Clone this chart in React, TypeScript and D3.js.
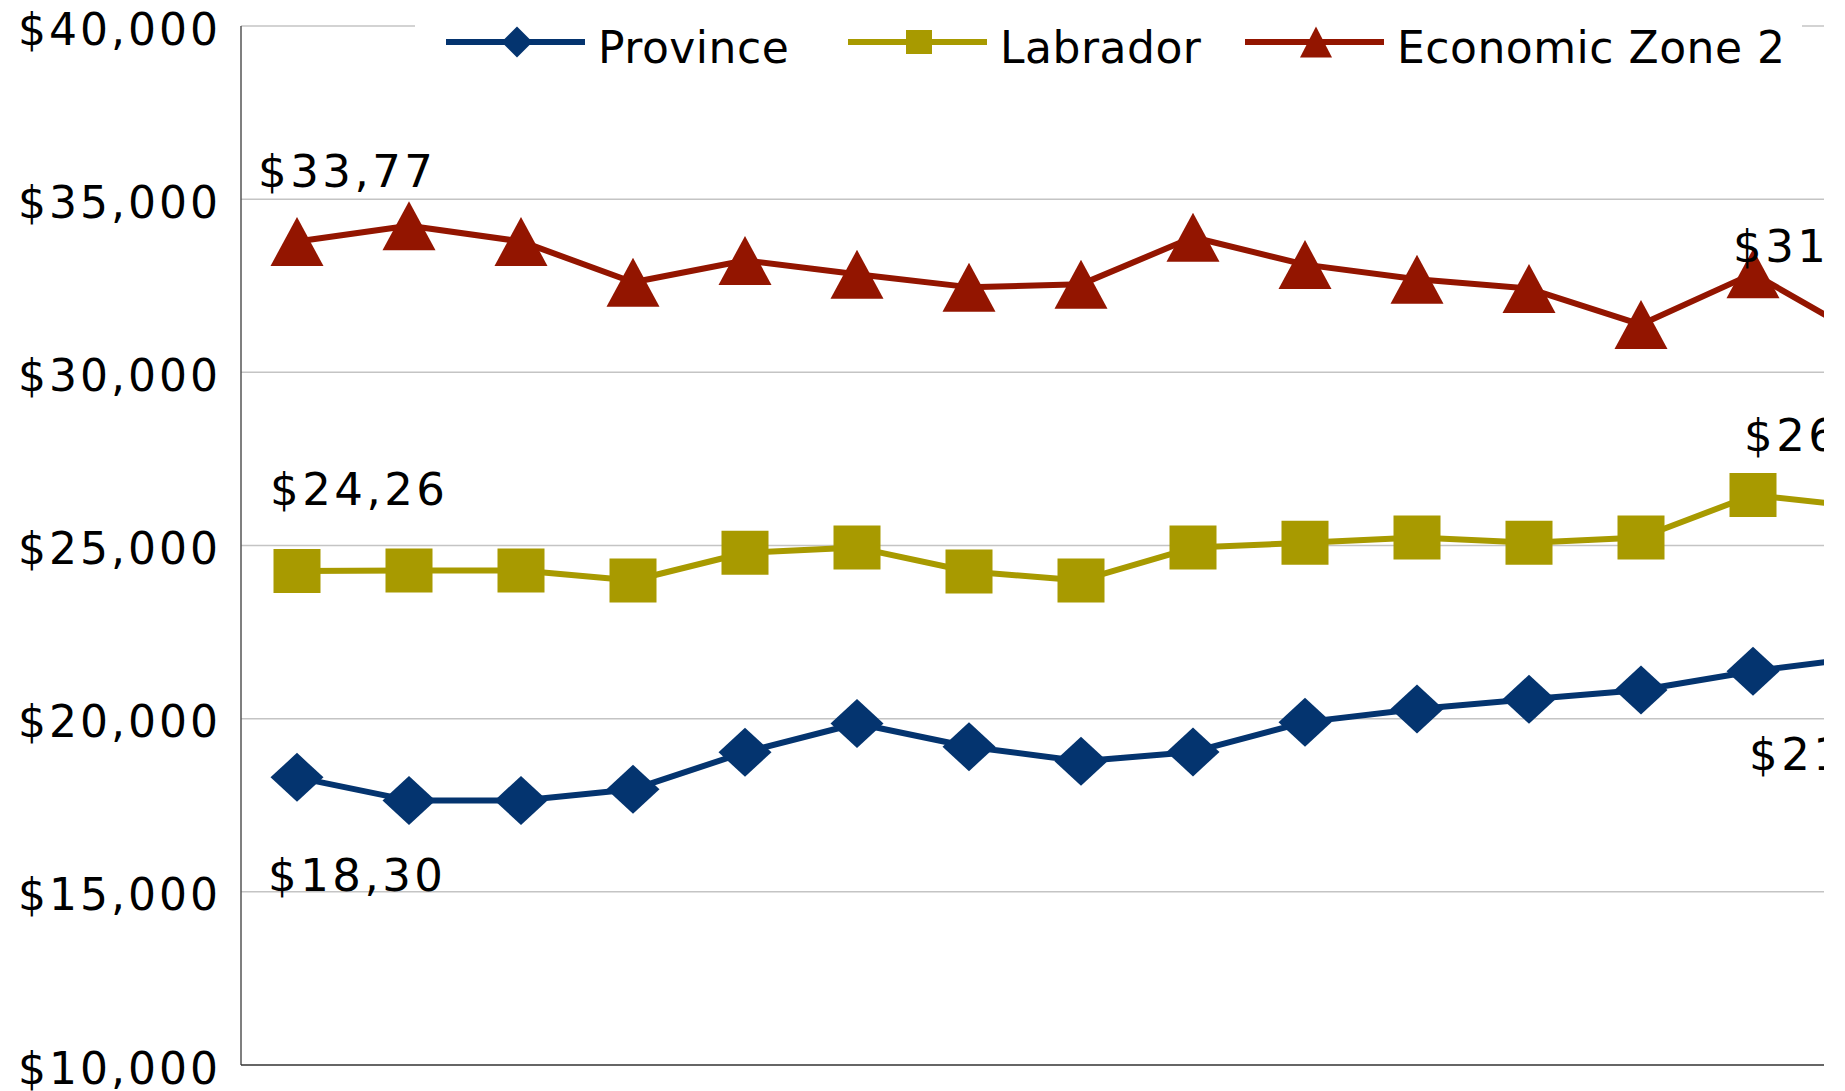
import React from "react";
import * as d3 from "d3";

// x-axis categories (their labels are cut off below the visible area)
const categories = ["1", "2", "3", "4", "5", "6", "7", "8", "9", "10", "11", "12", "13", "14", "15"];

const province = [18305, 17640, 17640, 17960, 19030, 19860, 19190, 18770, 19040, 19900, 20280, 20560, 20830, 21370, 21780];
const labrador = [24263, 24280, 24280, 23990, 24790, 24940, 24250, 23990, 24940, 25080, 25230, 25080, 25230, 26460, 26100];
const zone2 = [33777, 34230, 33780, 32600, 33230, 32830, 32460, 32540, 33900, 33110, 32690, 32420, 31380, 32850, 31000];

const yTicks = [10000, 15000, 20000, 25000, 30000, 35000, 40000];

const series = [
  { name: "Province", values: province, color: "#04346f", marker: "diamond", first: { dx: -29, dy: 114 }, last: { dx: -116, dy: 113 } },
  { name: "Labrador", values: labrador, color: "#a89a00", marker: "square", first: { dx: -27, dy: -66 }, last: { dx: -121, dy: -56 } },
  { name: "Economic Zone 2", values: zone2, color: "#931500", marker: "triangle", first: { dx: -39, dy: -55 }, last: { dx: -132, dy: -76 } },
];

const legendX = [446, 848, 1245];

const W = 1845;
const H = 1091;
const plot = { left: 241, top: 26, bottom: 1065, right: 1824 };
const FONT = "'DejaVu Sans', Verdana, sans-serif";

function markerPath(kind: string, w: number, h: number) {
  const a = w / 2;
  const b = h / 2;
  if (kind === "diamond") return `M0,${-b}L${a},0L0,${b}L${-a},0Z`;
  if (kind === "square") return `M${-a},${-b}H${a}V${b}H${-a}Z`;
  return `M0,${-b}L${a},${b}L${-a},${b}Z`;
}

const markerSize: Record<string, [number, number]> = {
  diamond: [53, 49],
  square: [47, 44],
  triangle: [53, 49],
};
const legendMarkerSize: Record<string, [number, number]> = {
  diamond: [31, 31],
  square: [26, 24],
  triangle: [32, 31],
};

const App = () => {
  const x = d3
    .scaleBand<string>()
    .domain(categories)
    .range([plot.left, plot.left + categories.length * 112])
    .padding(0);
  const cx = (c: string) => (x(c) as number) + x.bandwidth() / 2;

  const y = d3.scaleLinear().domain([10000, 40000]).range([plot.bottom, plot.top]);

  const line = d3
    .line<number>()
    .x((_, i) => cx(categories[i]))
    .y((d) => y(d));

  const fmt = d3.format("$,.0f");
  const last = categories.length - 1;

  return (
    <svg
      width={W}
      height={H}
      style={{ position: "absolute", left: 0, top: 0, background: "#fff" }}
      fontFamily={FONT}
    >
      <defs>
        <clipPath id="plotClip">
          <rect x={0} y={0} width={plot.right} height={H} />
        </clipPath>
        {series.map((s, k) => (
          <clipPath id={`firstLab${k}`} key={k}>
            <rect x={cx(categories[0]) + s.first.dx} y={0} width={180} height={H} />
          </clipPath>
        ))}
      </defs>

      {/* gridlines */}
      <g clipPath="url(#plotClip)">
        {yTicks.slice(1).map((t) => (
          <line key={t} x1={plot.left} x2={plot.right} y1={y(t)} y2={y(t)} stroke="#c4c4c4" strokeWidth={1.5} />
        ))}
      </g>

      {/* axes */}
      <line x1={plot.left} x2={plot.left} y1={plot.top} y2={plot.bottom} stroke="#555" strokeWidth={1.5} />
      <line x1={plot.left} x2={plot.right} y1={plot.bottom} y2={plot.bottom} stroke="#333" strokeWidth={1.5} />

      {yTicks.map((t) => (
        <text key={t} x={221} y={y(t) + 18.5} textAnchor="end" fontSize={44} letterSpacing={3} fill="#000">
          {fmt(t)}
        </text>
      ))}

      {/* series */}
      <g clipPath="url(#plotClip)">
        {series.map((s) => (
          <g key={s.name}>
            <path d={line(s.values) || ""} fill="none" stroke={s.color} strokeWidth={6} strokeLinejoin="round" />
            {s.values.map((v, i) => (
              <path
                key={i}
                transform={`translate(${cx(categories[i])},${y(v)})`}
                d={markerPath(s.marker, markerSize[s.marker][0], markerSize[s.marker][1])}
                fill={s.color}
              />
            ))}
          </g>
        ))}
        {series.map((s, k) => (
          <g key={s.name + "lab"} fontSize={45} letterSpacing={3.5} fill="#000">
            <text
              clipPath={`url(#firstLab${k})`}
              x={cx(categories[0]) + s.first.dx}
              y={y(s.values[0]) + s.first.dy}
            >
              {fmt(s.values[0])}
            </text>
            <text x={cx(categories[last]) + s.last.dx} y={y(s.values[last]) + s.last.dy}>
              {fmt(s.values[last])}
            </text>
          </g>
        ))}
      </g>

      {/* legend */}
      <rect x={415} y={0} width={1387} height={85} fill="#fff" />
      {series.map((s, k) => {
        const lx = legendX[k];
        const [mw, mh] = legendMarkerSize[s.marker];
        return (
          <g key={s.name + "leg"}>
            <line x1={lx} x2={lx + 139} y1={42} y2={42} stroke={s.color} strokeWidth={6} />
            <path transform={`translate(${lx + 71},${42})`} d={markerPath(s.marker, mw, mh)} fill={s.color} />
            <text x={lx + 152} y={63} fontSize={44} letterSpacing={0.5} fill="#000">
              {s.name}
            </text>
          </g>
        );
      })}
    </svg>
  );
};

export default App;
